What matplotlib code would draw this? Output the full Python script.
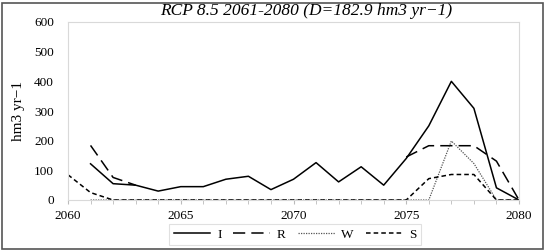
import matplotlib
matplotlib.use('Agg')
import matplotlib.pyplot as plt
from matplotlib.patches import Rectangle

plt.rcParams['font.family'] = ['Liberation Serif', 'DejaVu Serif']

years = list(range(2060, 2081))

# values (hm3 yr-1); None = no value for that year
irr = [None, 122, 55, 50, 30, 45, 45, 70, 80, 35, 70, 126, 61, 112, 50,
       140, 250, 400, 309, 41, 0]
res = [None, 184, 76, 50, None, None, None, None, None, None, None, None,
       None, None, None, 145, 183, 183, 183, 131, 0]
wat = [None, 0, 0, 0, 0, 0, 0, 0, 0, 0, 0, 0, 0, 0, 0,
       0, 0, 199, 123, 0, 0]
sto = [85, 25, 0, 0, 0, 0, 0, 0, 0, 0, 0, 0, 0, 0, 0,
       0, 72, 86, 86, 0, 0]

title = 'RCP 8.5 2061-2080 (D=182.9 hm3 yr\u22121)'
ylabel = 'hm3 yr\u22121'


def segments(vals):
    # split a series at missing years so gaps stay open
    runs, cur = [], []
    for y, v in zip(years, vals):
        if v is None:
            if cur:
                runs.append(cur)
            cur = []
        else:
            cur.append((y, v))
    if cur:
        runs.append(cur)
    return runs


def draw(ax, vals, label, **kw):
    for i, run in enumerate(segments(vals)):
        xs, vs = zip(*run)
        ax.plot(xs, vs, label=label if i == 0 else None, **kw)


fig = plt.figure(figsize=(5.5, 2.52), dpi=100)
ax = fig.add_axes([68 / 550, 1 - 200 / 252, (519 - 68) / 550, (200 - 22) / 252])

draw(ax, irr, 'I', color='black', lw=1.1, linestyle='-')
draw(ax, res, 'R', color='black', lw=1.1, dashes=(8, 4))
draw(ax, wat, 'W', color='#555555', lw=0.9, dashes=(1, 1))
draw(ax, sto, 'S', color='black', lw=1.1, dashes=(3, 2))

ax.set_xlim(2060, 2080)
ax.set_ylim(0, 600)
ax.set_xticks([2060, 2065, 2070, 2075, 2080])
ax.set_xticks(range(2060, 2081), minor=True)
ax.set_yticks(range(0, 601, 100))
ax.tick_params(axis='both', labelsize=9.5, colors='black')
ax.tick_params(axis='y', length=0, pad=10)
ax.tick_params(axis='x', which='both', length=3, color='#bbbbbb', direction='out', pad=4)
for sp in ax.spines.values():
    sp.set_color('#d9d9d9')
    sp.set_linewidth(0.8)
ax.set_ylabel(ylabel, fontsize=11)
ax.yaxis.set_label_coords(-0.095, 0.5)

fig.text(0.557, 0.958, title, ha='center', va='center', fontsize=12.5, style='italic')

leg = ax.legend(loc='center', bbox_to_anchor=(295 / 550, 1 - 234.5 / 252),
                bbox_transform=fig.transFigure, ncol=4, fontsize=9.5,
                frameon=True, fancybox=False, handlelength=2.8,
                columnspacing=0.9, handletextpad=0.5, borderpad=0.35)
leg.get_frame().set_edgecolor('#d9d9d9')
leg.get_frame().set_linewidth(0.8)

fig.patches.append(Rectangle((2 / 550, 3 / 252), 541 / 550, 246 / 252,
                             transform=fig.transFigure, fill=False,
                             edgecolor='#555555', lw=1.2))

fig.savefig('out.png', dpi=100)
plt.close(fig)
